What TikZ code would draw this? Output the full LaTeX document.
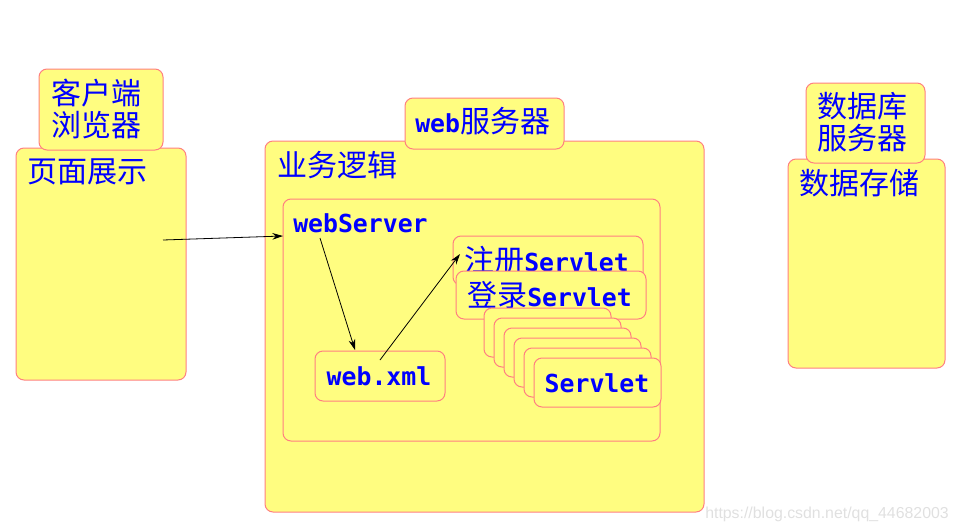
\documentclass[tikz,border=0pt]{standalone}
\usepackage{fontspec}
\usetikzlibrary{fit,arrows.meta}
\newfontfamily\zhfont{Noto Sans CJK SC}
\newfontfamily\monofont{DejaVu Sans Mono}
\newfontfamily\wmfont{Liberation Sans}
\newcommand{\zh}[1]{{\zhfont\fontsize{22.5pt}{24pt}\selectfont #1}}
\newcommand{\mo}[1]{{\monofont\bfseries\fontsize{18.6pt}{24pt}\selectfont #1}}
\definecolor{boxfill}{RGB}{255,253,128}
\definecolor{boxline}{RGB}{255,128,128}
\definecolor{txtblue}{RGB}{0,0,255}
\tikzset{
  box/.style={draw=boxline, fill=boxfill, line width=0.75pt, rounded corners=6pt, inner sep=0pt},
  lbl/.style={anchor=west, inner sep=0pt, text=txtblue},
  lbl2/.style={anchor=west, inner sep=0pt, text=txtblue, align=left, font={\zhfont\fontsize{22.5pt}{24pt}\selectfont}},
  arr/.style={-{Stealth[length=8pt,width=5pt]}, line width=0.6pt, black},
}
\begin{document}
\begin{tikzpicture}[x=0.75pt,y=-0.75pt]
\useasboundingbox (0,0) rectangle (957,532);
% client
\node[box, fit={(16,148) (186,380)}] (page) {};
\node[box, fit={(39,69) (163,150)}] (browser) {};
\node[lbl2] (browsertxt) at (51,109) {客户端\\浏览器};
\node[lbl] (pagetxt) at (27,172) {\zh{页面展示}};
% web server
\node[box, fit={(265,141) (704,512)}] (logic) {};
\node[box, fit={(405,98) (564,149)}] (websrv) {};
\node[lbl] (websrvtxt) at (415,121) {\mo{web}\zh{服务器}};
\node[lbl] (logictxt) at (277,165) {\zh{业务逻辑}};
\node[box, fit={(283,199) (660,441)}] (inner) {};
\node[lbl] (webservertxt) at (293,223) {\mo{webServer}};
\node[box, fit={(453,236) (643,285)}] (reg) {};
\node[lbl] (regtxt) at (464,260) {\zh{注册}\mo{Servlet}};
\node[box, fit={(456,271) (646,319)}] (login) {};
\node[lbl] (logintxt) at (467,295) {\zh{登录}\mo{Servlet}};
\foreach \i in {0,...,5}{
  \node[box, fit={(484+10*\i,308+10*\i) (611+10*\i,357+10*\i)}] (s\i) {};
}
\node[inner sep=0pt, text=txtblue] (s5txt) at (597,383) {\mo{Servlet}};
\node[box, fit={(315,351) (445,401)}] (webxml) {};
\node[inner sep=0pt, text=txtblue] (webxmltxt) at (379,376) {\mo{web.xml}};
% database
\node[box, fit={(788,159) (945,368)}] (store) {};
\node[box, fit={(806,83) (925,163)}] (db) {};
\node[lbl2] (dbtxt) at (817,122) {数据库\\服务器};
\node[lbl] (storetxt) at (799,183) {\zh{数据存储}};
% arrows
\coordinate (a1s) at (163,240);
\coordinate (a1e) at (283,236);
\coordinate (a2s) at (320,238);
\coordinate (a2e) at (355,350);
\coordinate (a3s) at (380,360);
\coordinate (a3e) at (460,254);
\draw[arr] (a1s) -- (a1e);
\draw[arr] (a2s) -- (a2e);
\draw[arr] (a3s) -- (a3e);
% watermark
\node[anchor=west, inner sep=0pt, text=black!12] (wm) at (705,514) {\wmfont\fontsize{11.9pt}{13pt}\selectfont https://blog.csdn.net/qq\_44682003};
\end{tikzpicture}
\end{document}
